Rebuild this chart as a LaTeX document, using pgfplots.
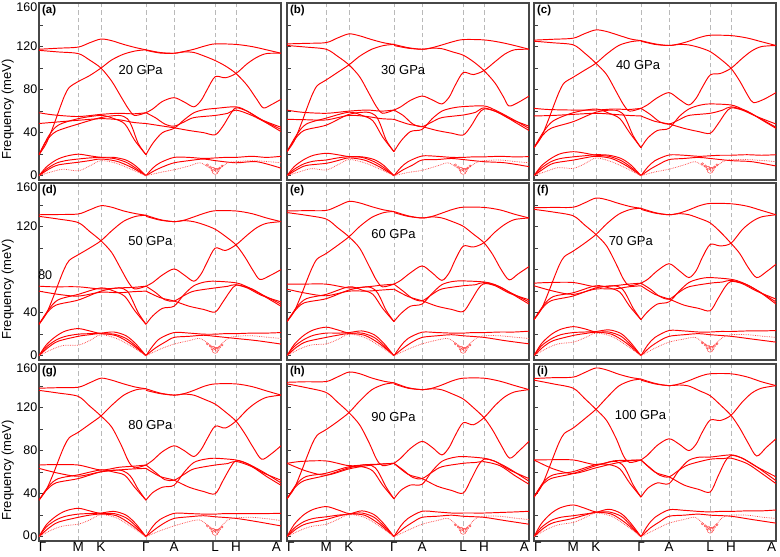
\documentclass[border=0pt]{standalone}
\usepackage{fontspec}
\setmainfont{Liberation Sans}
\usepackage{pgfplots}
\pgfplotsset{compat=1.18}
\pgfplotsset{
 panel/.style={scale only axis, width=242pt, height=177pt, anchor=south west,
   xmin=0, xmax=100, ymin=-4, ymax=160.5,
   axis line style={line width=1.4pt, draw=black!72},
   xtick={0,16.2,25.6,44.2,55.8,72.8,81.4,100}, xticklabels={}, xtick style={draw=none},
   xmajorgrids, grid style={gray!55, dash pattern=on 4.5pt off 3pt, line width=0.7pt},
   ytick={0,40,80,120,160}, minor ytick={20,60,100,140}, yticklabels={}, ytick pos=left,
   tick align=inside, major tick length=4pt, minor tick length=4pt,
   ytick style={draw=black!75, line width=0.7pt},
   /pgf/number format/assume math mode=true,
   ticklabel style={font=\fontsize{12.5}{12.5}\selectfont},
   yticklabel style={inner sep=1.5pt},
   xticklabel style={font=\fontsize{13.5}{13.5}\selectfont, inner sep=1pt},
   ylabel style={font=\fontsize{13}{13}\selectfont, at={(ticklabel cs:0.4)}, inner sep=1pt},
 },
 xl/.style={xticklabels={\makebox[0pt][l]{Γ},M,K,Γ,A,L,H,\makebox[0pt][r]{A}}},
 br/.style={red, line width=0.95pt, smooth, mark=none},
 bd/.style={red!70, line width=0.75pt, densely dotted, smooth, mark=none},
 bub/.style={red!75, only marks, mark=o, line width=0.45pt},
}
\newcommand\B[1]{\addplot[br] coordinates {#1};}
\newcommand\D[1]{\addplot[bd] coordinates {#1};}
\newcommand\Bub[3]{\addplot[bub,mark size=3pt] coordinates {#1};\addplot[bub,mark size=2pt] coordinates {#2};\addplot[bub,mark size=1.1pt] coordinates {#3};}
\newcommand\Lab[4]{\node[font=\bfseries\fontsize{11.5}{11.5}\selectfont, anchor=north west, inner sep=1pt] at (rel axis cs:0.008,0.993) {#1};
 \node[font=\fontsize{13}{13}\selectfont] at (rel axis cs:#2,#3) {#4};}
\newcommand\TopL{\raisebox{-8pt}[0pt][0pt]{160}}
\begin{document}
\begin{tikzpicture}
\useasboundingbox (0pt,0pt) rectangle (780pt,557pt);
% ---------------- (a) 20 GPa
\begin{axis}[panel, at={(39pt,377pt)}, yticklabels={0,40,80,120,\TopL}, ylabel={Frequency (meV)}]
\B{(0,117.5)(8,118.5)(16.2,119.5)(20.9,123.5)(25.6,127)(30,125.5)(35,122)(40,119)(44.2,117)}
\B{(0,116.5)(8,115)(16.2,113.5)(20.9,107.5)(25.6,100)(30,88)(34,73)(37,62)(39.5,56)(44.2,58.5)}
\B{(0,19.5)(3,30)(6,46.5)(8.4,61.5)(10.5,74)(12.5,82)(16.2,87.5)(20.9,93)(25.6,100)(30,107.5)(35,113)(40,116)(44.2,117)}
\B{(0,58.5)(6,56.5)(16.2,55)(25.6,57)(33,58)(39,57.5)(44.2,58.5)}
\B{(0,48.5)(8,50)(16.2,51.5)(25.6,53)(33,52)(39,49.5)(44.2,48.5)}
\B{(0,19.5)(3,32)(7,41)(16.2,48)(25.6,54)(33,56)(36.5,53)(38.5,45)(41,30)(44.2,19.5)}
\B{(0,19.5)(4,37)(8,47)(16.2,53)(25.6,56)(31,53)(35.5,48)(39.5,33)(44.2,19.5)}
\B{(0,0)(3,8)(7,14.5)(11,18)(16.2,20)(20.9,18.5)(25.6,17)(31,16)(36,12.5)(40,7)(44.2,0)}
\B{(0,0)(3,6)(7,11.5)(11,14)(16.2,15.5)(20.9,16.5)(25.6,17)(31,17)(36,14.5)(40,9)(44.2,0)}
\B{(0,0)(4,6)(8,10)(16.2,12.5)(20.9,14)(25.6,15.5)(32,13.5)(38,8)(44.2,0)}
\D{(0,0)(5,3.5)(10,6)(16.2,4.5)(20.9,9)(25.6,14)(32,11.5)(38,6)(44.2,0)}
\B{(44.2,117)(50,114.5)(55.8,113.8)(60,115.5)(64,117.5)(68.5,120.5)(72.8,122.5)(81.4,122)(88,120)(94,117)(100,113.8)}
\B{(44.2,116.5)(50,114)(55.8,113.8)(60,115)(64,114.5)(68.5,111)(72.8,107)(77,102)(81.4,95)(86,84)(90,71)(92.7,63)(96,66)(100,71)}
\B{(44.2,58.5)(47,62)(51,69)(55.8,72.5)(60,68.5)(64,64)(67,70)(69.5,80)(72.8,92)(77,91)(81.4,95)(86,104)(90,110)(94,113.5)(100,113.8)}
\B{(44.2,48.5)(50,46.5)(55.8,44.5)(62,42)(68,40)(72.8,38)(76,46)(79,57)(81.4,63)(86,60)(92,52)(100,45)}
\B{(44.2,19.5)(47,30)(51,40)(55.8,44)(60,52)(64,58.5)(68.5,61.5)(72.8,62.5)(81.4,64)(86,60)(92,52)(100,43)}
\B{(44.2,58.5)(48,54)(52,48)(55.8,46)(60,50)(64,54)(72.8,56)(78,58)(81.4,61)(88,56)(94,49)(100,41)}
\B{(44.2,0)(47,7)(50,12)(55.8,17)(62,17)(68,16)(72.8,16.5)(77,17)(81.4,17)(88,18)(94,17)(100,18)}
\B{(44.2,0)(48,5)(52,9)(55.8,12)(62,14)(68,15.5)(72.8,14)(81.4,12)(90,13)(100,7)}
\D{(44.2,0)(50,3)(55.8,5.5)(62,9)(66.5,12)(70,8)(72.8,5)(75.5,8)(78,12)(81.4,13)(88,14)(95,13)(100,12)}
\Bub{(72.8,4)}{(73.6,5)(71.9,6)}{(70.8,8)(74.6,7)(75.6,9)(69.6,10)}
\Lab{(a)}{0.42}{0.62}{20 GPa}
\end{axis}
% ---------------- (b) 30 GPa
\begin{axis}[panel, at={(287pt,377pt)}]
\B{(0,122.5)(8,123)(16.2,123.7)(20.9,128)(25.6,131.8)(30,130)(35,126.5)(40,123.5)(44.2,122)}
\B{(0,121)(8,119.5)(16.2,117.5)(20.9,111)(25.6,103)(30,92)(34,76)(37,64)(39.5,58)(44.2,61)}
\B{(0,22.3)(3,32.3)(6,49)(8.4,63.7)(10.5,75.7)(12.5,83.7)(16.2,89)(20.9,96)(25.6,103)(30,111)(35,117.5)(40,121)(44.2,122)}
\B{(0,61)(6,59)(16.2,58)(25.6,60)(33,61)(39,60)(44.2,61)}
\B{(0,52.4)(8,52)(16.2,51.8)(25.6,56)(33,55)(39,53)(44.2,52.4)}
\B{(0,22.3)(3,33)(7,42)(16.2,47)(25.6,57)(33,59)(36.5,56)(38.5,48)(41,33)(44.2,22.3)}
\B{(0,22.3)(4,38)(8,48)(16.2,53.5)(25.6,59)(31,56)(35.5,51)(39.5,36)(44.2,22.3)}
\B{(0,0)(3,8.5)(7,15)(11,19)(16.2,20.8)(20.9,19.5)(25.6,17.7)(31,17)(36,13)(40,7.5)(44.2,0)}
\B{(0,0)(3,6)(7,11)(11,13.5)(16.2,14.6)(20.9,16.5)(25.6,17.7)(31,17.5)(36,15)(40,9.5)(44.2,0)}
\B{(0,0)(4,5.5)(8,9.5)(16.2,11.5)(20.9,14)(25.6,16.5)(32,14.5)(38,8.5)(44.2,0)}
\D{(0,0)(5,3.5)(10,6.5)(16.2,5.3)(20.9,10)(25.6,15)(32,12)(38,6.5)(44.2,0)}
\B{(44.2,122)(50,119)(55.8,117.5)(60,119)(64,121.5)(68.5,124.5)(72.8,126.5)(81.4,126.2)(88,124)(94,121)(100,117.5)}
\B{(44.2,121)(50,118.5)(55.8,117.5)(60,118.5)(64,118)(68.5,115)(72.8,112)(77,106)(81.4,97.7)(86,86)(89.5,73)(91.7,64.8)(95.5,68)(100,74)}
\B{(44.2,61)(47,64)(51,70)(55.8,74)(60,70.5)(64,66.7)(67,73)(69.5,84)(72.8,95.8)(77,94)(81.4,97.7)(86,106)(90,113)(94,117)(100,117.5)}
\B{(44.2,52.4)(50,48)(55.8,45.6)(62,42)(68,39.5)(72.8,37.8)(76,46)(79,57)(81.4,62)(86,60)(92,53)(100,46)}
\B{(44.2,22.3)(47,32)(51,41)(55.8,43)(60,53)(64,60)(68.5,63)(72.8,64.2)(81.4,64.8)(86,61)(92,54)(100,44)}
\B{(44.2,61)(48,56)(52,48)(55.8,45.6)(60,50)(64,54)(72.8,56.4)(78,59)(81.4,63)(88,58)(94,50)(100,42)}
\B{(44.2,0)(47,7.5)(50,13)(55.8,18.3)(62,18)(68,17)(72.8,17)(77,17.5)(81.4,17.5)(88,18)(94,17.5)(100,17.7)}
\B{(44.2,0)(48,5.5)(52,10)(55.8,14.6)(62,15)(68,16)(72.8,15)(81.4,13)(90,12)(100,8.4)}
\D{(44.2,0)(50,3)(55.8,5)(62,9)(66.5,12)(70,8)(72.8,5)(75.5,8)(78,12)(81.4,14)(88,14.5)(95,13)(100,12)}
\Bub{(72.8,4)}{(73.6,5)(71.9,6)}{(70.8,8)(74.6,7)(75.6,9)(69.6,10)}
\Lab{(b)}{0.48}{0.62}{30 GPa}
\end{axis}
% ---------------- (c) 40 GPa
\begin{axis}[panel, at={(534pt,377pt)}]
\B{(0,126)(8,126.8)(16.2,127.8)(20.9,132)(25.6,135.5)(30,134)(35,130.5)(40,127)(44.2,125.5)}
\B{(0,125)(8,123.5)(16.2,121.6)(20.9,114)(25.6,104.5)(30,94)(34,78)(37,66)(39.5,60)(44.2,62.6)}
\B{(0,26)(3,35.8)(6,52.2)(8.4,66.6)(10.5,78.4)(12.5,86.3)(16.2,91.5)(20.9,98)(25.6,104.5)(30,113)(35,121)(40,124.5)(44.2,125.5)}
\B{(0,62.6)(6,61.5)(16.2,61)(25.6,61)(33,62)(39,61.5)(44.2,62.6)}
\B{(0,55.5)(8,56)(16.2,57)(25.6,58)(33,57)(39,56)(44.2,55.5)}
\B{(0,26)(3,36)(7,44)(16.2,50.2)(25.6,59)(33,61)(36.5,58)(38.5,50)(41,37)(44.2,26)}
\B{(0,26)(4,41)(8,51)(16.2,58.5)(25.6,62)(31,58)(35.5,53)(39.5,40)(44.2,26)}
\B{(0,0)(3,9)(7,16)(11,20.5)(16.2,22.3)(20.9,21)(25.6,19)(31,18)(36,14)(40,8)(44.2,0)}
\B{(0,0)(3,7)(7,13)(11,16)(16.2,17.5)(20.9,18.5)(25.6,19.5)(31,19)(36,16)(40,10)(44.2,0)}
\B{(0,0)(4,6.5)(8,11.5)(16.2,14.5)(20.9,16.5)(25.6,18)(32,16)(38,9.5)(44.2,0)}
\D{(0,0)(5,4)(10,7.5)(16.2,6.8)(20.9,11)(25.6,16.5)(32,13)(38,7)(44.2,0)}
\B{(44.2,125.5)(50,122.5)(55.8,121)(60,122.5)(64,125)(68.5,128.5)(72.8,130.5)(81.4,130.2)(88,128)(94,124.5)(100,121)}
\B{(44.2,125)(50,122)(55.8,121)(60,122)(64,121.5)(68.5,119)(72.8,115.3)(77,108.5)(81.4,99.8)(85,88)(88.5,74)(90.7,67.9)(95,71)(100,77.2)}
\B{(44.2,62.6)(47,66)(51,72.5)(55.8,77.2)(60,71)(64,65.7)(67,72)(69.5,82)(72.8,93.6)(77,95)(81.4,99.8)(86,109)(90,116)(94,120)(100,121)}
\B{(44.2,55.5)(50,50.5)(55.8,48)(62,44)(68,41)(72.8,39.4)(76,48)(79,58)(81.4,63)(86,61)(92,55)(100,48)}
\B{(44.2,26)(47,35)(51,42)(55.8,44)(60,55)(64,62)(68.5,65.5)(72.8,66.7)(81.4,65.7)(86,62)(92,55)(100,45)}
\B{(44.2,62.6)(48,57)(52,50)(55.8,48)(60,52)(64,56)(72.8,58)(78,61)(81.4,64)(88,60)(94,52)(100,44)}
\B{(44.2,0)(47,8)(50,14)(55.8,19.2)(62,19)(68,18)(72.8,18.5)(77,19)(81.4,19)(88,19.5)(94,19)(100,19.5)}
\B{(44.2,0)(48,6)(52,11)(55.8,15)(62,16)(68,17)(72.8,16)(81.4,14)(90,13)(100,9)}
\D{(44.2,0)(50,3.5)(55.8,6)(62,10)(66.5,13)(70,9)(72.8,6)(75.5,9)(78,13)(81.4,15)(88,15)(95,14)(100,13)}
\Bub{(72.8,5)}{(73.6,6)(71.9,7)}{(70.8,9)(74.6,8)(75.6,10)(69.6,11)}
\Lab{(c)}{0.43}{0.65}{40 GPa}
\end{axis}
% ---------------- (d) 50 GPa
\begin{axis}[panel, at={(39pt,197pt)}, yticklabels={0,40,\raisebox{-10pt}[0pt][0pt]{\makebox[0pt][l]{\hspace{1pt}80}},120,\TopL}, ylabel={Frequency (meV)}]
\B{(0,131)(8,131.2)(16.2,131.7)(20.9,135.5)(25.6,139.4)(30,138)(35,134.5)(40,132)(44.2,130.5)}
\B{(0,129.5)(8,127)(16.2,123.7)(20.9,115.5)(25.6,106.8)(30,96)(34,80)(37,68)(39.5,62)(44.2,64.6)}
\B{(0,29.2)(3,38.9)(6,55)(8.4,69.3)(10.5,80.9)(12.5,88.6)(16.2,93.8)(20.9,100)(25.6,106.8)(30,116)(35,125)(40,129.5)(44.2,130.5)}
\B{(0,64.6)(6,64)(16.2,64)(25.6,62)(33,63)(39,63.5)(44.2,64.6)}
\B{(0,60)(8,57)(16.2,55.4)(25.6,59)(33,58.5)(39,59.5)(44.2,60)}
\B{(0,29.2)(3,39)(7,47)(16.2,51.7)(25.6,60)(33,63)(36.5,60)(38.5,52)(41,40)(44.2,29.2)}
\B{(0,29.2)(4,43)(8,52)(16.2,57)(25.6,63)(31,60)(35.5,55)(39.5,42)(44.2,29.2)}
\B{(0,0)(3,10)(7,18)(11,23)(16.2,25.2)(20.9,23)(25.6,20.5)(31,20)(36,16)(40,9)(44.2,0)}
\B{(0,0)(3,8)(7,14.5)(11,18)(16.2,20)(20.9,20.5)(25.6,21)(31,22)(36,18.5)(40,11)(44.2,0)}
\B{(0,0)(4,8)(8,13.5)(16.2,18)(20.9,19.5)(25.6,20.5)(32,18.5)(38,11)(44.2,0)}
\D{(0,0)(5,5.5)(10,9.5)(16.2,9.8)(20.9,14)(25.6,19.5)(32,16)(38,9)(44.2,0)}
\B{(44.2,130.5)(50,126.5)(55.8,124.6)(60,126)(64,129)(68.5,132.5)(72.8,134.7)(81.4,134.5)(88,132)(94,128)(100,124.6)}
\B{(44.2,129.5)(50,126)(55.8,124.6)(60,125.5)(64,124.5)(68.5,121.5)(72.8,117.5)(77,111)(81.4,103)(85,92)(88.5,79)(91.3,70.8)(95.5,74.5)(100,80)}
\B{(44.2,64.6)(47,68)(51,75)(55.8,80.6)(60,75)(64,69.2)(67,76)(69.5,87)(72.8,100)(77,97.8)(81.4,103)(86,112)(90,119)(94,123)(100,124.6)}
\B{(44.2,60)(50,54)(55.8,50.8)(62,46)(68,43)(72.8,40.6)(76,50)(79,60)(81.4,65.5)(86,63)(92,56)(100,50)}
\B{(44.2,29.2)(47,37)(51,44)(55.8,46)(60,57)(64,65)(68.5,68.5)(72.8,69.2)(81.4,67.7)(86,64)(92,57)(100,48)}
\B{(44.2,64.6)(48,59)(52,52)(55.8,50.8)(60,56)(64,60)(72.8,63)(78,64.5)(81.4,66)(88,62)(94,54)(100,46)}
\B{(44.2,0)(47,9)(50,16)(55.8,21.5)(62,21)(68,20)(72.8,20)(77,20.5)(81.4,20.5)(88,21)(94,21)(100,21.5)}
\B{(44.2,0)(48,7)(52,12.5)(55.8,17)(62,18)(68,19)(72.8,18)(81.4,16)(90,14)(100,10.8)}
\D{(44.2,0)(50,6)(55.8,10.8)(62,14)(66.5,16)(70,11)(72.8,6)(75.5,11)(78,16)(81.4,18)(88,18.5)(95,17)(100,16)}
\Bub{(72.8,5)}{(73.6,6)(71.9,7)}{(70.8,9)(74.6,8)(75.6,10)(69.6,11)}
\Lab{(d)}{0.46}{0.67}{50 GPa}
\end{axis}
% ---------------- (e) 60 GPa
\begin{axis}[panel, at={(287pt,197pt)}]
\B{(0,134.5)(8,134.8)(16.2,135)(20.9,139)(25.6,143.4)(30,142)(35,138.5)(40,135.5)(44.2,134)}
\B{(0,133)(8,130.5)(16.2,127)(20.9,119)(25.6,110.5)(30,100)(34,83)(37,70)(39.5,64)(44.2,66.5)}
\B{(0,31.7)(3,41.2)(6,57)(8.4,71)(10.5,82.3)(12.5,90)(16.2,95)(20.9,102.5)(25.6,110.5)(30,120)(35,128.5)(40,133)(44.2,134)}
\B{(0,66.5)(6,66.5)(16.2,66.5)(25.6,63)(33,64)(39,65.5)(44.2,66.5)}
\B{(0,61.8)(8,58)(16.2,55.7)(25.6,60)(33,60)(39,61)(44.2,61.8)}
\B{(0,31.7)(3,41)(7,49)(16.2,53)(25.6,61)(33,64)(36.5,61)(38.5,54)(41,42)(44.2,31.7)}
\B{(0,31.7)(4,45)(8,53)(16.2,57)(25.6,64)(31,61)(35.5,57)(39.5,44)(44.2,31.7)}
\B{(0,0)(3,10.5)(7,19)(11,24)(16.2,26.5)(20.9,24)(25.6,21)(31,21)(36,17)(40,9.5)(44.2,0)}
\B{(0,0)(3,8.5)(7,15)(11,19)(16.2,21)(20.9,21)(25.6,21.5)(31,23)(36,19.5)(40,11.5)(44.2,0)}
\B{(0,0)(4,8)(8,13)(16.2,17)(20.9,19)(25.6,20.5)(32,19)(38,11.5)(44.2,0)}
\D{(0,0)(5,6)(10,10)(16.2,11)(20.9,15)(25.6,20)(32,17)(38,9.5)(44.2,0)}
\B{(44.2,134)(50,130)(55.8,128)(60,129.5)(64,132.5)(68.5,136)(72.8,138)(81.4,137.8)(88,135.5)(94,131.5)(100,128)}
\B{(44.2,133)(50,129.5)(55.8,128)(60,129)(64,128)(68.5,124.5)(72.8,120.3)(77,113)(81.4,105)(85,94)(88.5,80)(91.8,70.5)(95.5,76)(100,82.8)}
\B{(44.2,66.5)(47,70)(51,77)(55.8,83.4)(60,77)(64,70)(67,77)(69.5,89)(72.8,101.8)(77,101)(81.4,105)(86,115)(90,122)(94,126.5)(100,128)}
\B{(44.2,61.8)(50,55)(55.8,51)(62,46)(68,43)(72.8,41)(76,51)(79,62)(81.4,67)(86,65)(92,58)(100,52)}
\B{(44.2,31.7)(47,39)(51,46)(55.8,48)(60,58)(64,66)(68.5,69)(72.8,69.5)(81.4,68.5)(86,66)(92,59)(100,50)}
\B{(44.2,66.5)(48,60)(52,53)(55.8,51)(60,57)(64,62)(72.8,65)(78,66)(81.4,68)(88,64)(94,56)(100,48)}
\B{(44.2,0)(47,9)(50,16)(55.8,21.8)(62,21.5)(68,21)(72.8,21)(77,21.5)(81.4,21.5)(88,22)(94,22)(100,22.8)}
\B{(44.2,0)(48,7)(52,13)(55.8,17)(62,18.5)(68,19.5)(72.8,18.5)(81.4,17)(90,14)(100,11)}
\D{(44.2,0)(50,6)(55.8,11)(62,14.5)(66.5,16)(70,11)(72.8,6)(75.5,11)(78,16)(81.4,18.5)(88,18.5)(95,17)(100,16)}
\Bub{(72.8,5)}{(73.6,6)(71.9,7)}{(70.8,9)(74.6,8)(75.6,10)(69.6,11)}
\Lab{(e)}{0.44}{0.71}{60 GPa}
\end{axis}
% ---------------- (f) 70 GPa
\begin{axis}[panel, at={(534pt,197pt)}]
\B{(0,137.5)(8,137.8)(16.2,138)(20.9,142)(25.6,146.5)(30,145)(35,141.5)(40,138.5)(44.2,137)}
\B{(0,136)(8,133.5)(16.2,130)(20.9,121.5)(25.6,112.6)(30,102)(34,85)(37,71)(39.5,65)(44.2,67.4)}
\B{(0,33.5)(3,43)(6,59)(8.4,73)(10.5,84.5)(12.5,92)(16.2,97.2)(20.9,104.5)(25.6,112.6)(30,122.5)(35,131.5)(40,136)(44.2,137)}
\B{(0,67.4)(6,68)(16.2,68)(25.6,64)(33,65)(39,66.5)(44.2,67.4)}
\B{(0,65)(8,60)(16.2,57)(25.6,62)(33,62)(39,64)(44.2,65)}
\B{(0,33.5)(3,43)(7,51)(16.2,55.5)(25.6,63)(33,65)(36.5,62)(38.5,55)(41,44)(44.2,33.5)}
\B{(0,33.5)(4,47)(8,55)(16.2,58.5)(25.6,65)(31,63)(35.5,59)(39.5,46)(44.2,33.5)}
\B{(0,0)(3,11)(7,19.5)(11,24.5)(16.2,27)(20.9,25)(25.6,22)(31,22)(36,18)(40,10)(44.2,0)}
\B{(0,0)(3,9)(7,15.5)(11,19.5)(16.2,21.5)(20.9,22)(25.6,22.5)(31,24)(36,20.5)(40,12)(44.2,0)}
\B{(0,0)(4,8.5)(8,14)(16.2,18.8)(20.9,20.5)(25.6,21.8)(32,20)(38,12)(44.2,0)}
\D{(0,0)(5,6.5)(10,11)(16.2,12.6)(20.9,16.5)(25.6,21)(32,18)(38,10)(44.2,0)}
\B{(44.2,137)(50,133)(55.8,131)(60,132.5)(64,135.5)(68.5,139.5)(72.8,141.5)(81.4,141.2)(88,139)(94,135)(100,131)}
\B{(44.2,136)(50,132.5)(55.8,131)(60,132)(64,131)(68.5,127.5)(72.8,123.4)(77,115)(81.4,104.5)(85,95)(88.5,82)(92,72.6)(96,78)(100,85)}
\B{(44.2,67.4)(47,71)(51,79)(55.8,85.5)(60,79)(64,72.6)(67,79)(69.5,91)(72.8,103.4)(77,102)(81.4,104.5)(86,117)(90,124.5)(94,129)(100,131)}
\B{(44.2,65)(50,57)(55.8,52.6)(62,47)(68,44)(72.8,41.8)(76,53)(79,64)(81.4,69)(86,67)(92,60)(100,52.6)}
\B{(44.2,33.5)(47,41)(51,48)(55.8,50)(60,60)(64,68)(68.5,71.5)(72.8,72.6)(81.4,71)(86,68)(92,61)(100,50)}
\B{(44.2,67.4)(48,62)(52,55)(55.8,52.6)(60,59)(64,64)(72.8,67.4)(78,68.5)(81.4,70)(88,66)(94,58)(100,48)}
\B{(44.2,0)(47,10)(50,17)(55.8,23.4)(62,23)(68,22)(72.8,22)(77,22.5)(81.4,22.5)(88,23)(94,23)(100,23.4)}
\B{(44.2,0)(48,8)(52,14)(55.8,18)(62,19.5)(68,20.5)(72.8,19.5)(81.4,18)(90,15.5)(100,12.6)}
\D{(44.2,0)(50,7)(55.8,12.6)(62,15.5)(66.5,17)(70,12)(72.8,7)(75.5,12)(78,17)(81.4,19.5)(88,19.5)(95,18)(100,17)}
\Bub{(72.8,6)}{(73.6,7)(71.9,8)}{(70.8,10)(74.6,9)(75.6,11)(69.6,12)}
\Lab{(f)}{0.40}{0.67}{70 GPa}
\end{axis}
% ---------------- (g) 80 GPa
\begin{axis}[panel, at={(39pt,16pt)}, yticklabels={\raisebox{2pt}{0}\hspace{0.5pt}0,40,80,120,\TopL}, ylabel={Frequency (meV)}, xl]
\B{(0,138)(8,138.5)(16.2,138.9)(20.9,143)(25.6,147.3)(30,145.5)(35,142)(40,139)(44.2,137.5)}
\B{(0,136)(8,133.5)(16.2,130.4)(20.9,121.5)(25.6,112.2)(30,102)(34,85)(37,70)(39.5,64)(44.2,66.6)}
\B{(0,34)(3,43.5)(6,59)(8.4,73)(10.5,84.4)(12.5,92)(16.2,97)(20.9,104.5)(25.6,112.2)(30,122)(35,131.5)(40,136.5)(44.2,137.5)}
\B{(0,66.6)(6,67)(16.2,66.6)(25.6,62)(33,64.5)(39,65.5)(44.2,66.6)}
\B{(0,63.5)(8,59)(16.2,56.2)(25.6,60.3)(33,62)(39,63)(44.2,63.5)}
\B{(0,34)(3,43)(7,50)(16.2,54)(25.6,60.3)(33,62)(36.5,59)(38.5,54)(41,44)(44.2,34)}
\B{(0,34)(4,47)(8,54)(16.2,57.5)(25.6,62)(31,60)(35.5,57)(39.5,46)(44.2,34)}
\B{(0,0)(3,11)(7,19)(11,24)(16.2,26.4)(20.9,24)(25.6,21.5)(31,21.5)(36,17.5)(40,10)(44.2,0)}
\B{(0,0)(3,9)(7,15.5)(11,19)(16.2,21)(20.9,21.5)(25.6,22)(31,23.5)(36,20)(40,12)(44.2,0)}
\B{(0,0)(4,8)(8,13.5)(16.2,18)(20.9,20)(25.6,21)(32,19.5)(38,11.5)(44.2,0)}
\D{(0,0)(5,6)(10,10)(16.2,11.6)(20.9,15.5)(25.6,20.5)(32,17.5)(38,9.5)(44.2,0)}
\B{(44.2,137.5)(50,133.5)(55.8,131.6)(60,133)(64,136)(68.5,140)(72.8,142)(81.4,142)(88,139.5)(94,135.5)(100,131.6)}
\B{(44.2,136)(50,133)(55.8,131.6)(60,132.5)(64,131.5)(68.5,127.5)(72.8,123.2)(77,116)(81.4,107.4)(85,96)(88.5,83)(92,72)(96,77)(100,84.5)}
\B{(44.2,66.6)(47,71)(51,79)(55.8,84.5)(60,80)(64,74.5)(67,81)(69.5,91)(72.8,102.7)(77,101)(81.4,107.4)(86,118)(90,125)(94,129.5)(100,131.6)}
\B{(44.2,63.5)(50,56)(55.8,52.5)(62,46)(68,42)(72.8,39.9)(76,52)(79,64)(81.4,70.5)(86,68)(92,60)(100,52.5)}
\B{(44.2,34)(47,41)(51,46)(55.8,47.8)(60,60)(64,69)(68.5,72)(72.8,72.9)(81.4,71.3)(86,68)(92,61)(100,50)}
\B{(44.2,66.6)(48,60)(52,53)(55.8,52.5)(60,58)(64,63)(72.8,66.6)(78,68)(81.4,70)(88,65)(94,56)(100,47.8)}
\B{(44.2,0)(47,9.5)(50,16)(55.8,21.7)(62,21.5)(68,21)(72.8,21)(77,21.5)(81.4,21.5)(88,21.5)(94,21.5)(100,21.7)}
\B{(44.2,0)(48,7)(52,13)(55.8,17)(62,18.5)(68,19.5)(72.8,18.5)(81.4,17)(90,14)(100,10)}
\D{(44.2,0)(50,5.5)(55.8,10)(62,14)(66.5,15.5)(70,10)(72.8,5)(75.5,10)(78,15.5)(81.4,17.5)(88,18)(95,16.5)(100,15)}
\Bub{(72.8,4)}{(73.6,5)(71.9,6)}{(70.8,8)(74.6,7)(75.6,9)(69.6,10)}
\Lab{(g)}{0.46}{0.655}{80 GPa}
\end{axis}
% ---------------- (h) 90 GPa
\begin{axis}[panel, at={(287pt,16pt)}, xl]
\B{(0,143.5)(8,144)(16.2,144.2)(20.9,148.5)(25.6,153)(30,151.5)(35,147.5)(40,144.5)(44.2,143)}
\B{(0,142)(8,138.5)(16.2,134)(20.9,125)(25.6,115.3)(30,104)(34,87)(37,72)(39.5,66)(44.2,68.2)}
\B{(0,35.2)(3,44.9)(6,61)(8.4,75.1)(10.5,86.7)(12.5,94.4)(16.2,99.6)(20.9,107)(25.6,115.3)(30,126)(35,136.5)(40,141.5)(44.2,143)}
\B{(0,68.2)(6,70)(16.2,70.4)(25.6,66)(33,67)(39,67.5)(44.2,68.2)}
\B{(0,68.2)(8,61)(16.2,57.2)(25.6,63)(33,66)(39,67.5)(44.2,68.2)}
\B{(0,35.2)(3,45)(7,52)(16.2,57)(25.6,64)(33,67)(36.5,64)(38.5,57)(41,46)(44.2,35.2)}
\B{(0,35.2)(4,49)(8,56)(16.2,59)(25.6,65)(31,65)(35.5,61)(39.5,48)(44.2,35.2)}
\B{(0,0)(3,11.5)(7,20.5)(11,25.5)(16.2,28)(20.9,25)(25.6,21.5)(31,22)(36,18)(40,10)(44.2,0)}
\B{(0,0)(3,8)(7,14)(11,17)(16.2,18.5)(20.9,20)(25.6,21)(31,24)(36,20.5)(40,12)(44.2,0)}
\B{(0,0)(4,7.5)(8,12)(16.2,16)(20.9,19)(25.6,21)(32,20)(38,12)(44.2,0)}
\D{(0,0)(5,5.5)(10,9.5)(16.2,11.6)(20.9,16)(25.6,20.5)(32,18)(38,10)(44.2,0)}
\B{(44.2,143)(50,138.5)(55.8,136.7)(60,138)(64,141)(68.5,145)(72.8,147.3)(81.4,147.3)(88,144.5)(94,140.5)(100,136.7)}
\B{(44.2,142)(50,138)(55.8,136.7)(60,137.5)(64,136.5)(68.5,132.5)(72.8,128)(77,120)(81.4,110.6)(85,99)(88.5,85)(92,73)(96,80)(100,88.6)}
\B{(44.2,68.2)(47,73)(51,82)(55.8,88.6)(60,83)(64,76)(67,83)(69.5,94)(72.8,105.9)(77,104)(81.4,110.6)(86,122)(90,130)(94,134.5)(100,136.7)}
\B{(44.2,68.2)(50,58)(55.8,54)(62,47)(68,43)(72.8,40.5)(76,53)(79,66)(81.4,72)(86,70)(92,62)(100,54)}
\B{(44.2,35.2)(47,43)(51,48)(55.8,48.7)(60,61)(64,70)(68.5,73.5)(72.8,74.5)(81.4,72.9)(86,70)(92,63)(100,51.5)}
\B{(44.2,68.2)(48,62)(52,55)(55.8,54)(60,60)(64,65)(72.8,68.2)(78,69)(81.4,69.7)(88,66)(94,57)(100,48.7)}
\B{(44.2,0)(47,10)(50,17)(55.8,23.6)(62,23)(68,22)(72.8,22)(77,22)(81.4,22)(88,22.5)(94,23)(100,23.6)}
\B{(44.2,0)(48,7.5)(52,13.5)(55.8,18)(62,19)(68,20)(72.8,19)(81.4,18)(90,15)(100,11.6)}
\D{(44.2,0)(50,6)(55.8,11.6)(62,15)(66.5,17)(70,11)(72.8,6)(75.5,11)(78,17)(81.4,19)(88,19)(95,17)(100,16)}
\Bub{(72.8,5)}{(73.6,6)(71.9,7)}{(70.8,9)(74.6,8)(75.6,10)(69.6,11)}
\Lab{(h)}{0.44}{0.70}{90 GPa}
\end{axis}
% ---------------- (i) 100 GPa
\begin{axis}[panel, at={(534pt,16pt)}, xl]
\B{(0,147)(8,147.8)(16.2,148.3)(20.9,152.5)(25.6,156.8)(30,155)(35,151)(40,148)(44.2,146.5)}
\B{(0,145.5)(8,142)(16.2,138)(20.9,128.5)(25.6,118.4)(30,108)(34,91)(37,75)(39.5,69)(44.2,71.3)}
\B{(0,36.8)(3,46.4)(6,62.5)(8.4,76.6)(10.5,88.2)(12.5,95.9)(16.2,101)(20.9,109.5)(25.6,118.4)(30,129)(35,140)(40,145)(44.2,146.5)}
\B{(0,71.3)(6,71.5)(16.2,71.3)(25.6,67)(33,70.5)(39,71)(44.2,71.3)}
\B{(0,71.3)(8,63)(16.2,58.7)(25.6,64)(33,68)(39,70.5)(44.2,71.3)}
\B{(0,36.8)(3,47)(7,54)(16.2,58.7)(25.6,66)(33,70)(36.5,67)(38.5,60)(41,48)(44.2,36.8)}
\B{(0,36.8)(4,51)(8,57.5)(16.2,60.5)(25.6,67)(31,67)(35.5,63)(39.5,50)(44.2,36.8)}
\B{(0,0)(3,12)(7,21.5)(11,27)(16.2,29.5)(20.9,26.5)(25.6,23)(31,23)(36,19)(40,10.5)(44.2,0)}
\B{(0,0)(3,8.5)(7,15)(11,18)(16.2,19.5)(20.9,21)(25.6,22.6)(31,25.5)(36,21.5)(40,12.5)(44.2,0)}
\B{(0,0)(4,8)(8,13)(16.2,17)(20.9,20)(25.6,22.6)(32,21)(38,12.5)(44.2,0)}
\D{(0,0)(5,6.5)(10,11)(16.2,13.2)(20.9,17.5)(25.6,22)(32,19)(38,10.5)(44.2,0)}
\B{(44.2,146.5)(50,142.5)(55.8,140.4)(60,142)(64,145)(68.5,149)(72.8,151.4)(81.4,151.4)(88,148.5)(94,144)(100,140.4)}
\B{(44.2,145.5)(50,142)(55.8,140.4)(60,141)(64,140)(68.5,135.5)(72.8,131)(77,122.5)(81.4,112.8)(85,101)(88.5,87)(92,75)(96,83)(100,91)}
\B{(44.2,71.3)(47,76)(51,85)(55.8,91)(60,86)(64,80)(67,86)(69.5,97)(72.8,108.4)(77,108)(81.4,112.8)(86,125)(90,133.5)(94,138)(100,140.4)}
\B{(44.2,71.3)(50,60)(55.8,55.6)(62,48)(68,44)(72.8,41.5)(76,56)(79,70)(81.4,75.5)(86,73)(92,65)(100,55.6)}
\B{(44.2,36.8)(47,45)(51,50)(55.8,49.3)(60,62)(64,71)(68.5,74)(72.8,74)(81.4,76)(86,73)(92,65)(100,52)}
\B{(44.2,71.3)(48,64)(52,57)(55.8,55.6)(60,62)(64,67)(72.8,72)(78,72.5)(81.4,73)(88,68)(94,59)(100,49.3)}
\B{(44.2,0)(47,10.5)(50,18)(55.8,25)(62,24.5)(68,23.5)(72.8,23)(77,23.5)(81.4,23.5)(88,24)(94,24)(100,24.8)}
\B{(44.2,0)(48,8)(52,14)(55.8,19)(62,20)(68,21)(72.8,20)(81.4,19)(90,16)(100,12.6)}
\D{(44.2,0)(50,6.5)(55.8,12.6)(62,16)(66.5,18)(70,12)(72.8,7)(75.5,12)(78,18)(81.4,20)(88,20)(95,18)(100,17)}
\Bub{(72.8,6)}{(73.6,7)(71.9,8)}{(70.8,10)(74.6,9)(75.6,11)(69.6,12)}
\Lab{(i)}{0.44}{0.71}{100 GPa}
\end{axis}
\end{tikzpicture}
\end{document}
